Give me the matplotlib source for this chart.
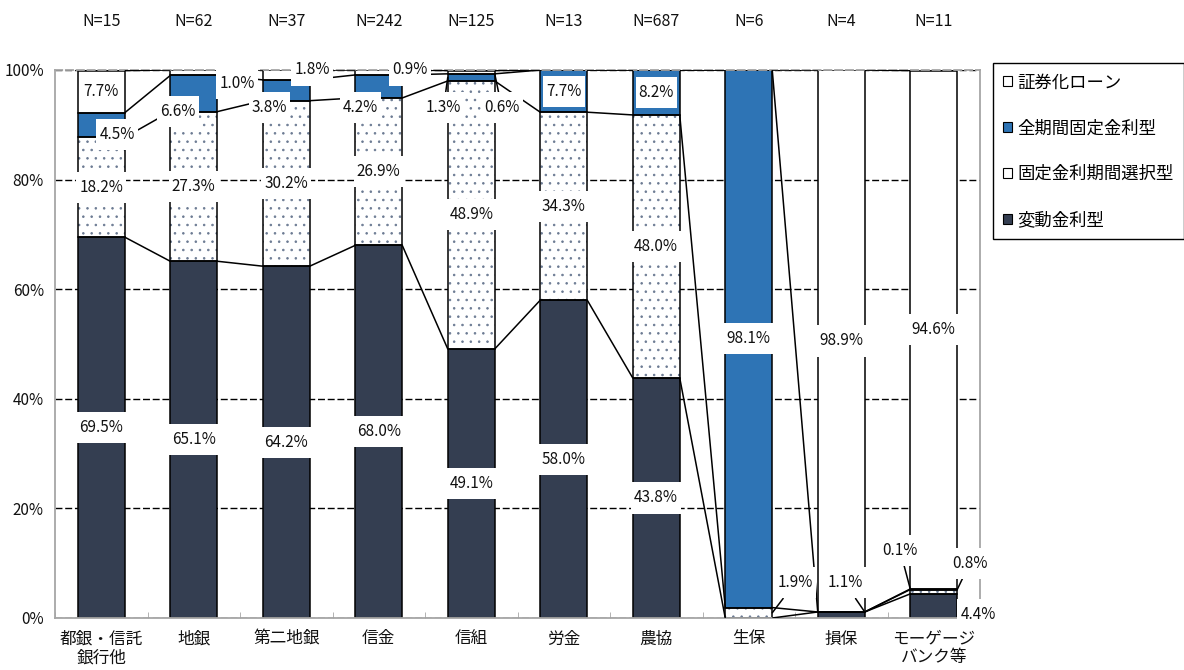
import numpy as np
import matplotlib
matplotlib.use("Agg")
import matplotlib.pyplot as plt
from matplotlib import font_manager as fm
from matplotlib.patches import Patch
from matplotlib.transforms import blended_transform_factory

# ---- data -------------------------------------------------------------
categories = ['都銀・信託\n銀行他', '地銀', '第二地銀', '信金', '信組',
              '労金', '農協', '生保', '損保', 'モーゲージ\nバンク等']
sample_sizes = [15, 62, 37, 242, 125, 13, 687, 6, 4, 11]
series_names = ['変動金利型', '固定金利期間選択型', '全期間固定金利型', '証券化ローン']

variable_rate = [69.5, 65.1, 64.2, 68.0, 49.1, 58.0, 43.8, 0.0, 1.1, 4.4]
fixed_period = [18.2, 27.3, 30.2, 26.9, 48.9, 34.3, 48.0, 1.9, 0.0, 0.8]
full_fixed = [4.5, 6.6, 3.8, 4.2, 1.3, 7.7, 8.2, 98.1, 0.0, 0.1]
securitized = [7.7, 1.0, 1.8, 0.9, 0.6, 0.0, 0.0, 0.0, 98.9, 94.6]

y_ticks = [0, 20, 40, 60, 80, 100]

# ---- styling ----------------------------------------------------------
DARK = '#343e51'
BLUE = '#2e74b5'
DOT = '#6b7a92'
GRAY = '#a6a6a6'

names = {f.name for f in fm.fontManager.ttflist}
JP = 'Noto Sans CJK JP'
if 'Liberation Sans Narrow' in names:
    NUM = 'Liberation Sans Narrow'
    k = 1.0
else:
    NUM = JP
    k = 1.05
plt.rcParams['font.family'] = [JP, 'DejaVu Sans']
plt.rcParams['hatch.linewidth'] = 0.6

# label positions that were moved off their segment centre
# (series index, category index) -> (x, y) in data units
moved_labels = {
    (2, 0): (0.17, 88.3),
    (2, 1): (0.83, 92.5),
    (3, 1): (1.47, 97.6),
    (2, 2): (1.82, 93.1),
    (3, 2): (2.28, 100.0),
    (2, 3): (2.80, 93.1),
    (3, 3): (3.34, 100.0),
    (2, 4): (3.70, 93.1),
    (3, 4): (4.33, 93.1),
    (1, 7): (7.50, 6.4),
    (0, 8): (8.04, 6.4),
    (2, 9): (8.635, 12.4),
    (1, 9): (9.39, 10.0),
    (0, 9): (9.478, 0.6),
}
# labels with a leader line: which bar edge and which part of the segment
leaders = {
    (2, 4): ('left', 'mid'),
    (3, 4): ('right', 'bottom'),
    (1, 7): ('right', 'mid'),
    (0, 8): ('right', 'top'),
    (2, 9): ('left', 'top'),
    (1, 9): ('right', 'top'),
}

# ---- figure -----------------------------------------------------------
W, H = 1184, 670
fig = plt.figure(figsize=(W / 100, H / 100), dpi=100)
ax = fig.add_axes([55 / W, 52 / H, 925 / W, 548 / H])

x = np.arange(len(categories))
w = 0.508
data = np.array([variable_rate, fixed_period, full_fixed, securitized])
tops = np.cumsum(data, axis=0)
bottoms = tops - data

fills = [DARK, 'white', BLUE, 'white']
for s in range(4):
    if s == 1:
        ax.bar(x, data[s], w, bottom=bottoms[s], color='white',
               edgecolor=DOT, hatch='..', linewidth=0, zorder=2)
    else:
        ax.bar(x, data[s], w, bottom=bottoms[s], color=fills[s],
               linewidth=0, zorder=2)
    ax.bar(x, data[s], w, bottom=bottoms[s], fill=False,
           edgecolor='black', linewidth=1.1, zorder=2.5)

# series lines joining the segment tops of neighbouring bars
for s in range(4):
    for i in range(len(x) - 1):
        ax.plot([x[i] + w / 2, x[i + 1] - w / 2], [tops[s, i], tops[s, i + 1]],
                color='black', lw=1.1, zorder=3, solid_capstyle='butt')

# data labels: narrow side padding, taller top/bottom padding
label_size = 10.5 * k
box = dict(boxstyle='square,pad=0.2', fc='white', ec='none', mutation_aspect=2.3)
for s in range(4):
    for i in range(len(x)):
        v = data[s, i]
        if v <= 0:
            continue
        txt = f'{v:.1f}%'
        pos = moved_labels.get((s, i), (x[i], bottoms[s, i] + v / 2))
        if (s, i) in leaders:
            side, part = leaders[(s, i)]
            ex = x[i] - w / 2 if side == 'left' else x[i] + w / 2
            ey = {'top': tops[s, i], 'mid': bottoms[s, i] + v / 2,
                  'bottom': bottoms[s, i]}[part]
            ax.annotate(txt, xy=(ex, ey), xytext=pos, ha='center', va='center',
                        fontsize=label_size, family=[NUM, JP], color='#111111',
                        bbox=box, zorder=5, annotation_clip=False,
                        arrowprops=dict(arrowstyle='-', color='black', lw=1.1,
                                        shrinkA=0, shrinkB=0))
        else:
            ax.text(pos[0], pos[1], txt, ha='center', va='center',
                    fontsize=label_size, family=[NUM, JP], color='#111111',
                    bbox=box, zorder=5)

# sample sizes above the plot
trans = blended_transform_factory(ax.transData, ax.transAxes)
for i, n in enumerate(sample_sizes):
    ax.text(x[i], 1.0876, f'N={n}', transform=trans, ha='center', va='center',
            fontsize=11 * k, family=[NUM, JP], color='#111111')

# axes
ax.set_xlim(-0.5, len(x) - 0.5)
ax.set_ylim(0, 100)
ax.set_yticks(y_ticks)
ax.set_yticklabels([f'{t}%' for t in y_ticks], family=[NUM, JP],
                   fontsize=10.5 * k, color='#111111')
ax.set_xticks(x)
ax.set_xticklabels(categories, fontsize=12, color='#111111', linespacing=1.15)
ax.set_xticks(np.arange(len(x) + 1) - 0.5, minor=True)
ax.tick_params(axis='x', which='major', length=0, pad=9)
ax.tick_params(axis='x', which='minor', length=4, direction='in', color=GRAY)
ax.tick_params(axis='y', length=0, pad=8)

ax.yaxis.grid(True, color='black', linestyle=(0, (5, 2)), linewidth=1.0, zorder=0.5)
ax.set_axisbelow(True)
for side in ['left', 'right', 'bottom']:
    ax.spines[side].set_color(GRAY)
    ax.spines[side].set_linewidth(1.3)
ax.spines['top'].set_color(GRAY)
ax.spines['top'].set_linewidth(1.3)
ax.spines['top'].set_linestyle((0, (4, 2)))

# legend
handle_fills = [DARK, 'white', BLUE, 'white']
handles = [Patch(facecolor=handle_fills[s], edgecolor='black', linewidth=0.8)
           for s in range(4)][::-1]
leg = fig.legend(handles, series_names[::-1], loc='upper left',
                 bbox_to_anchor=(993 / W, 1 - 63 / H), borderaxespad=0,
                 frameon=True, fancybox=False, edgecolor='black', framealpha=1,
                 fontsize=12.5, handlelength=0.5, handleheight=0.5,
                 handletextpad=0.3, labelspacing=1.6, borderpad=0.6)
leg.get_frame().set_linewidth(1.0)

fig.savefig('out.png', dpi=100)
